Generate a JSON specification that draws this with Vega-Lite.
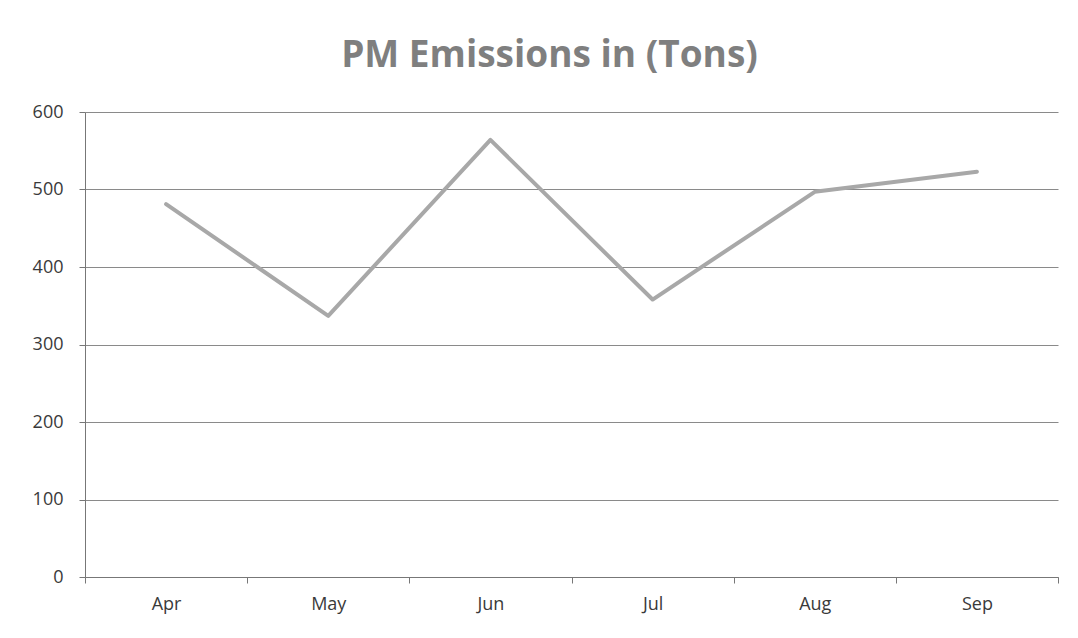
{
  "$schema": "https://vega.github.io/schema/vega-lite/v6.json",
  "width": 973,
  "height": 465,
  "autosize": {"type": "none"},
  "padding": {"left": 85, "top": 112, "right": 20, "bottom": 61},
  "background": "white",
  "title": {
    "text": "PM Emissions in (Tons)",
    "font": "Open Sans",
    "fontSize": 37,
    "fontWeight": "bold",
    "color": "#7f7f7f",
    "anchor": "middle",
    "offset": 28,
    "dx": -22
  },
  "config": {
    "view": {"stroke": null},
    "axis": {"labelFont": "Open Sans", "labelFontSize": 18, "labelColor": "#3a3a3a"}
  },
  "data": {
    "values": [
      {"month": "Apr", "tons": 481},
      {"month": "May", "tons": 337},
      {"month": "Jun", "tons": 564},
      {"month": "Jul", "tons": 358},
      {"month": "Aug", "tons": 497},
      {"month": "Sep", "tons": 523}
    ]
  },
  "mark": {"type": "line", "color": "#a8a8a8", "strokeWidth": 4, "strokeJoin": "round", "strokeCap": "round"},
  "encoding": {
    "x": {
      "field": "month",
      "type": "ordinal",
      "sort": null,
      "bandPosition": 0.5,
      "scale": {"type": "band", "paddingInner": 0, "paddingOuter": 0},
      "axis": {
        "title": null,
        "labelAngle": 0,
        "tickBand": "extent",
        "ticks": true,
        "tickSize": 6,
        "tickColor": "#777777",
        "domainColor": "#777777",
        "labelPadding": 12,
        "grid": false
      }
    },
    "y": {
      "field": "tons",
      "type": "quantitative",
      "scale": {"domain": [0, 600]},
      "axis": {
        "title": null,
        "values": [0, 100, 200, 300, 400, 500, 600],
        "grid": true,
        "gridColor": "#8a8a8a",
        "gridWidth": 1,
        "tickSize": 6,
        "tickColor": "#777777",
        "domainColor": "#777777",
        "labelPadding": 16
      }
    }
  }
}
